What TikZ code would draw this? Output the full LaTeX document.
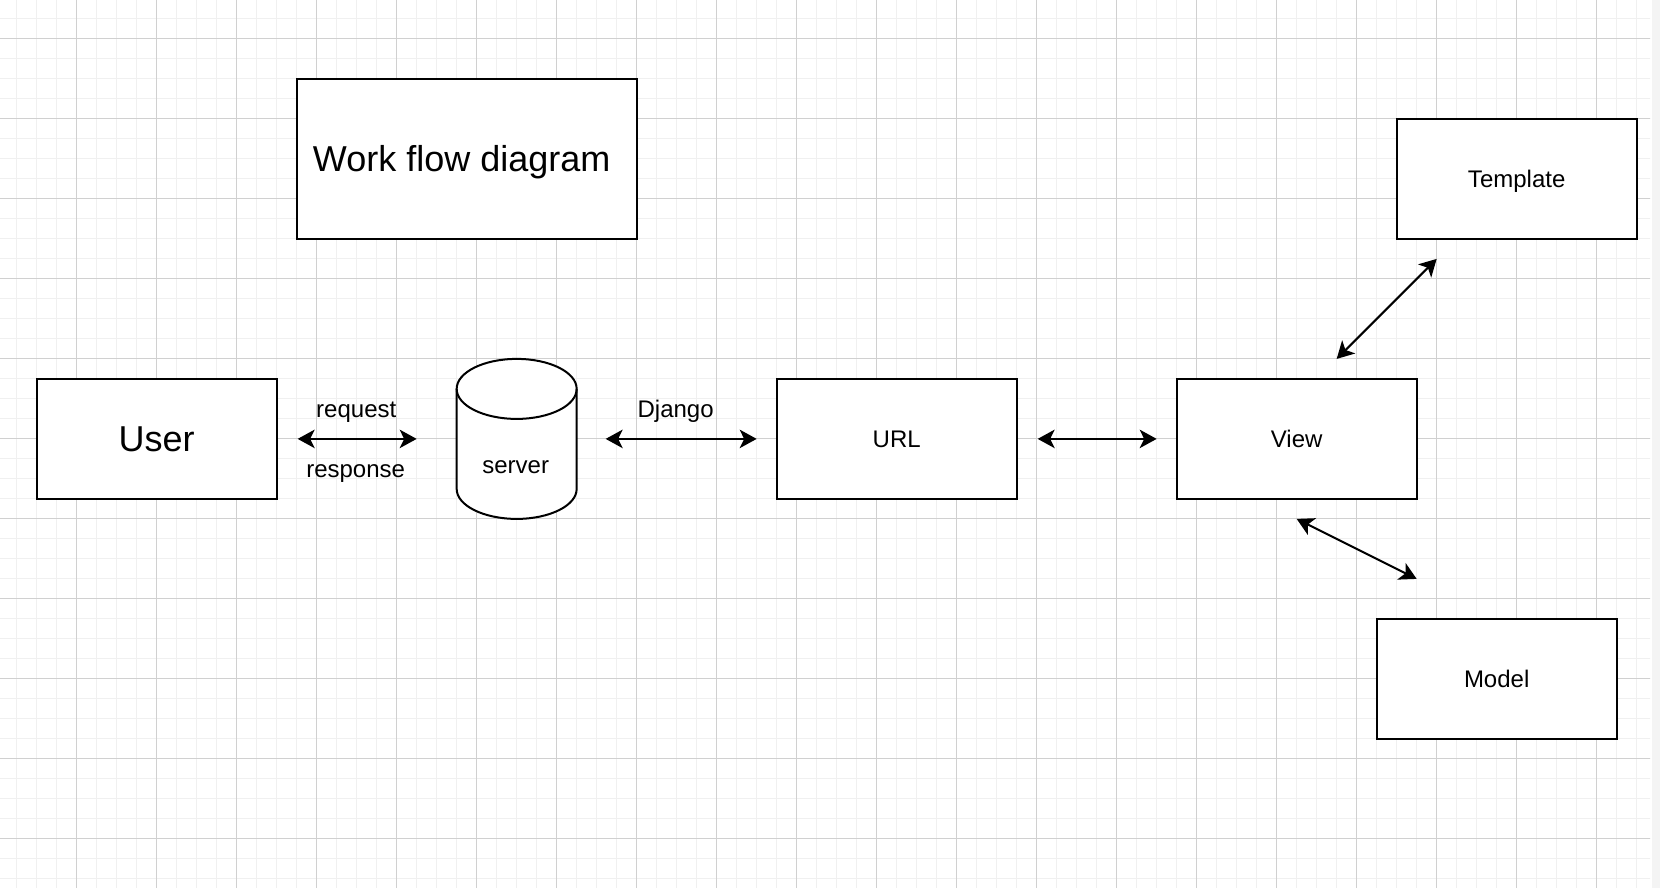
\documentclass[tikz,border=0pt]{standalone}
\usepackage{fontspec}
\setmainfont{Liberation Sans}
\usetikzlibrary{arrows.meta,calc}
\definecolor{gridminor}{RGB}{240,240,240}
\definecolor{gridmajor}{RGB}{208,208,208}
\definecolor{edgebar}{RGB}{244,244,244}
\tikzset{
  box/.style={draw=black, line width=2pt, fill=white, minimum width=240pt,
    minimum height=120pt, inner sep=0pt, outer sep=0pt,
    font=\fontsize{24}{28}\selectfont, text height=17.2pt, text depth=0pt},
  bigtext/.style={font=\fontsize{36}{42}\selectfont, text height=25.8pt},
  lbl/.style={font=\fontsize{24}{28}\selectfont, inner sep=0pt, anchor=base},
  link/.style={line width=2pt,
    {Stealth[length=17pt,width=18.5pt,inset=4.5pt]}-{Stealth[length=17pt,width=18.5pt,inset=4.5pt]}},
  cyl/.style={line width=2pt, draw=black},
  minorline/.style={gridminor, line width=1.5pt},
  majorline/.style={gridmajor, line width=1pt},
}
\begin{document}
\begin{tikzpicture}[x=1pt,y=-1pt]
\useasboundingbox (0,0) rectangle (1660,888);
\fill[white] (0,0) rectangle (1660,888);
\fill[edgebar] (1652,0) rectangle (1660,888);
\begin{scope}[shift={(-3.33,-1.67)}]
  % grid
  \begin{scope}
    \clip (3.33,1.67) rectangle (1653.33,889.67);
    \foreach \i in {1,...,82} \draw[minorline] (20*\i,0) -- (20*\i,900);
    \foreach \j in {1,...,44} \draw[minorline] (0,20*\j) -- (1700,20*\j);
    \foreach \i in {1,...,20} \draw[majorline] (80*\i,0) -- (80*\i,900);
    \foreach \j in {0,...,10} \draw[majorline] (0,40+80*\j) -- (1700,40+80*\j);
  \end{scope}
\end{scope}
\begin{scope}[shift={(-3.33,-1.1)}]
  % boxes
  \node[box, bigtext, minimum width=340pt, minimum height=160pt] (title) at (470,160) {Work flow diagram\hspace*{10pt}};
  \node[box, bigtext] (user) at (160,440) {User};
  \node[box] (url) at (900,440) {URL};
  \node[box] (view) at (1300,440) {View};
  \node[box] (template) at (1520,180) {Template};
  \node[box] (model) at (1500,680) {Model};

  % server cylinder
  \node[inner sep=0pt, outer sep=0pt, minimum width=120pt, minimum height=160pt] (server) at (520,440) {};
  \draw[cyl, fill=white] (server.north west) ++(0,30) -- ($(server.south west)+(0,-30)$)
    arc[start angle=180, end angle=360, x radius=60pt, y radius=30pt]
    -- ($(server.north east)+(0,30)$)
    arc[start angle=0, end angle=180, x radius=60pt, y radius=30pt] -- cycle;
  \draw[cyl] ($(server.north west)+(0,30)$)
    arc[start angle=180, end angle=360, x radius=60pt, y radius=30pt];
  \node[lbl] (servertext) at (519,474.4) {server};

  % connectors
  \draw[link, shorten <=21pt, shorten >=40pt] (user.east) -- (server.west);
  \draw[link, shorten <=29pt, shorten >=20pt] (server.east) -- (url.west);
  \draw[link, shorten <=21pt, shorten >=20pt] (url.east) -- (view.west);
  \draw[link] ($(view.north east)+(-80,-20)$) -- ($(template.south west)+(40,20)$);
  \draw[link] ($(view.south)+(0,20)$) -- ($(model.north west)+(40,-40)$);

  % labels
  \node[lbl] (request) at (359.6,418.4) {request};
  \node[lbl] (response) at (359,478.4) {response};
  \node[lbl] (django) at (679,419) {Django};
\end{scope}
\end{tikzpicture}
\end{document}
